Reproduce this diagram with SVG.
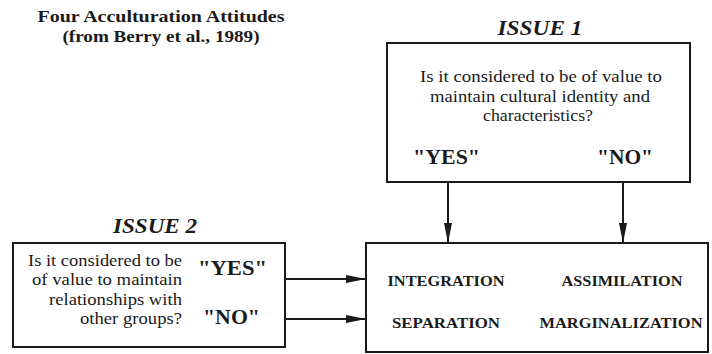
<svg xmlns="http://www.w3.org/2000/svg" width="712" height="354" viewBox="0 0 712 354">
<style>
text{font-family:"Liberation Serif","Times New Roman",serif;fill:#1a1a1a}
.t{font-size:17px;text-anchor:middle}
.tt{font-size:17px;text-anchor:middle;font-weight:bold}
.h{font-size:21px;font-weight:bold;font-style:italic;text-anchor:middle}
.q{font-size:17px;text-anchor:end}
.yn{font-size:22px;font-weight:bold}
.r{font-size:15.5px;font-weight:bold;text-anchor:middle}
.box{fill:#fff;stroke:#1a1a1a;stroke-width:2}
.c{stroke:#1a1a1a;stroke-width:2;fill:none}
</style>
<defs>
<marker id="ah" viewBox="0 0 20 8" refX="20" refY="4" markerWidth="10" markerHeight="4" markerUnits="strokeWidth" orient="auto">
<path d="M0,0 L20,4 L0,8 Z" fill="#1a1a1a"/>
</marker>
</defs>
<rect width="712" height="354" fill="#fff"/>
<g id="title">
<text class="tt" x="161" y="22" textLength="247" lengthAdjust="spacingAndGlyphs">Four Acculturation Attitudes</text>
<text class="tt" x="161" y="42" textLength="197" lengthAdjust="spacingAndGlyphs">(from Berry et al., 1989)</text>
</g>
<g id="issue1">
<text class="h" x="540" y="35" textLength="85" lengthAdjust="spacingAndGlyphs">ISSUE 1</text>
<rect class="box" x="387" y="43" width="303" height="139"/>
<text class="t" x="541" y="82" textLength="242" lengthAdjust="spacingAndGlyphs">Is it considered to be of value to</text>
<text class="t" x="540" y="102" textLength="220" lengthAdjust="spacingAndGlyphs">maintain cultural identity and</text>
<text class="t" x="538" y="121" textLength="110" lengthAdjust="spacingAndGlyphs">characteristics?</text>
<text class="yn" x="413" y="164" textLength="67" lengthAdjust="spacingAndGlyphs">"YES"</text>
<text class="yn" x="597" y="164" textLength="56" lengthAdjust="spacingAndGlyphs">"NO"</text>
</g>
<g id="issue2">
<text class="h" x="155" y="233" textLength="84" lengthAdjust="spacingAndGlyphs">ISSUE 2</text>
<rect class="box" x="13" y="243" width="272" height="104"/>
<text class="q" x="182" y="266" textLength="154" lengthAdjust="spacingAndGlyphs">Is it considered to be</text>
<text class="q" x="182" y="285" textLength="150" lengthAdjust="spacingAndGlyphs">of value to maintain</text>
<text class="q" x="182" y="305" textLength="133" lengthAdjust="spacingAndGlyphs">relationships with</text>
<text class="q" x="182" y="324" textLength="102" lengthAdjust="spacingAndGlyphs">other groups?</text>
<text class="yn" x="198" y="275" textLength="69" lengthAdjust="spacingAndGlyphs">"YES"</text>
<text class="yn" x="203" y="324" textLength="57" lengthAdjust="spacingAndGlyphs">"NO"</text>
</g>
<g id="outcomes">
<rect class="box" x="366" y="243" width="342" height="109"/>
<text class="r" x="446" y="286" textLength="117" lengthAdjust="spacingAndGlyphs">INTEGRATION</text>
<text class="r" x="622" y="286" textLength="121" lengthAdjust="spacingAndGlyphs">ASSIMILATION</text>
<text class="r" x="446" y="328" textLength="108" lengthAdjust="spacingAndGlyphs">SEPARATION</text>
<text class="r" x="621" y="328" textLength="163" lengthAdjust="spacingAndGlyphs">MARGINALIZATION</text>
</g>
<g id="connectors">
<line class="c" x1="448" y1="182" x2="448" y2="243" marker-end="url(#ah)"/>
<line class="c" x1="623" y1="182" x2="623" y2="243" marker-end="url(#ah)"/>
<line class="c" x1="286" y1="279" x2="366" y2="279" marker-end="url(#ah)"/>
<line class="c" x1="286" y1="319" x2="366" y2="319" marker-end="url(#ah)"/>
</g>
</svg>
